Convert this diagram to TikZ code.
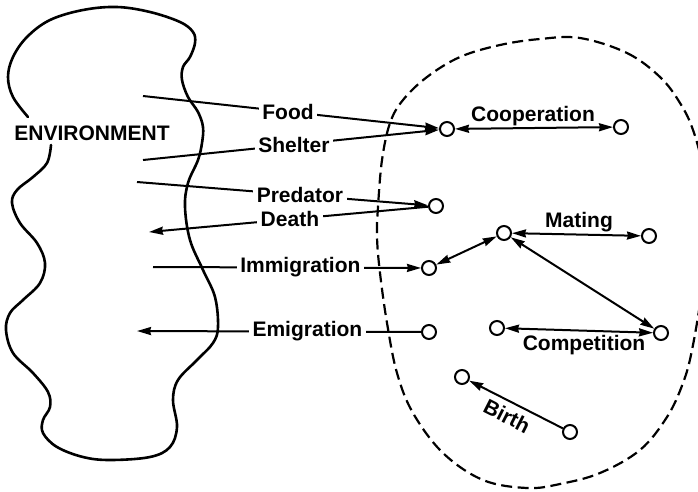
\documentclass[tikz,border=0pt]{standalone}
\usepackage{fontspec}
\setmainfont{Liberation Sans}
\usetikzlibrary{arrows.meta}
\begin{document}
\begin{tikzpicture}[x=1pt,y=-1pt,
  txt/.style={font=\bfseries\fontsize{21}{25}\selectfont, inner sep=0pt},
  lbl/.style={txt, fill=white, inner sep=3.5pt},
  pt/.style={circle, draw, fill=white, line width=2pt, minimum size=14pt, inner sep=0pt},
  tip/.tip={Stealth[length=14pt,width=8pt,inset=1pt]},
  conn/.style={line width=2pt, -tip},
  dconn/.style={line width=2pt, tip-tip},
  blob/.style={line width=2.6pt, line cap=round},
  region/.style={line width=2.2pt, dash pattern=on 11pt off 5.5pt},
]
\useasboundingbox (0,0) rectangle (698,491);
\begin{scope}
\clip (0,0) rectangle (698,491);
% environment outline
\draw[blob] plot[smooth, tension=0.6] coordinates {
 (51,145) (47,163) (33,177) (17,190) (12,203) (20,223) (37,243) (45,263)
 (40,283) (23,300) (10,313) (6,330) (13,353) (33,373) (48,392) (50,407)
 (43,420) (43,433) (57,447) (83,457) (110,460) (150,457) (170,447) (177,427)
 (173,400) (178,380) (197,360) (213,343) (218,327) (215,297) (203,270)
 (190,240) (185,207) (188,183) (198,160) (202,143) (203,127) (198,112)
 (188,97) (182,80) (183,67) (190,57) (195,43) (193,32) (180,22) (150,12)
 (117,7) (83,10) (50,20) (27,37) (13,57) (8,77) (13,97) (28,117)};
% population region
\draw[region] plot[smooth cycle, tension=0.6] coordinates {
 (580,38) (627,53) (660,77) (680,103) (693,130) (703,170) (708,230)
 (702,290) (692,350) (683,383) (667,417) (640,450) (600,473) (560,484)
 (527,488) (483,480) (443,453) (413,413) (397,373) (387,323) (380,273)
 (377,237) (378,207) (382,160) (390,123) (403,100) (427,77) (460,57)
 (500,45) (540,39)};
\end{scope}

\node[txt] (env) at (92,133) {ENVIRONMENT};

% points
\node[pt] (c1) at (447,129) {};
\node[pt] (c5) at (621,127) {};
\node[pt] (c2) at (436,206) {};
\node[pt] (c6) at (504,233) {};
\node[pt] (c7) at (649,236) {};
\node[pt] (c3) at (429,268) {};
\node[pt] (c4) at (429,332) {};
\node[pt] (c8) at (497,328) {};
\node[pt] (c9) at (661,333) {};
\node[pt] (c10) at (462,377) {};
\node[pt] (c11) at (570,432) {};

% free ends in the environment
\coordinate (foodL) at (143,96);
\coordinate (shelL) at (143,160);
\coordinate (predL) at (137,182);
\coordinate (deathL) at (149,232);
\coordinate (immL) at (153,267);
\coordinate (emigL) at (137,331);

\draw[conn] (foodL) -- node[lbl, pos=0.49] (lfood) {Food} (c1);
\draw[conn] (shelL) -- node[lbl, pos=0.51] (lshel) {Shelter} (c1);
\draw[conn] (predL) -- node[lbl, pos=0.56] (lpred) {Predator} (c2);
\draw[conn] (c2) -- node[lbl, pos=0.495] (ldeath) {Death} (deathL);
\draw[conn] (immL) -- node[lbl, pos=0.55] (limm) {Immigration} (c3);
\draw[conn] (c4) -- node[lbl, pos=0.40] (lemig) {Emigration} (emigL);

\draw[dconn] (c1) -- (c5);
\draw[dconn] (c3) -- (c6);
\draw[dconn] (c6) -- (c7);
\draw[dconn] (c6) -- (c9);
\draw[dconn] (c8) -- (c9);
\draw[conn] (c11) -- (c10);

\node[txt, anchor=base] (lcoop) at (533,121) {Cooperation};
\node[txt, anchor=base] (lmat) at (579,227) {Mating};
\node[txt, anchor=base] (lcomp) at (584,350) {Competition};
\node[txt, rotate=-27] (lbirth) at (507,416) {Birth};
\end{tikzpicture}
\end{document}
